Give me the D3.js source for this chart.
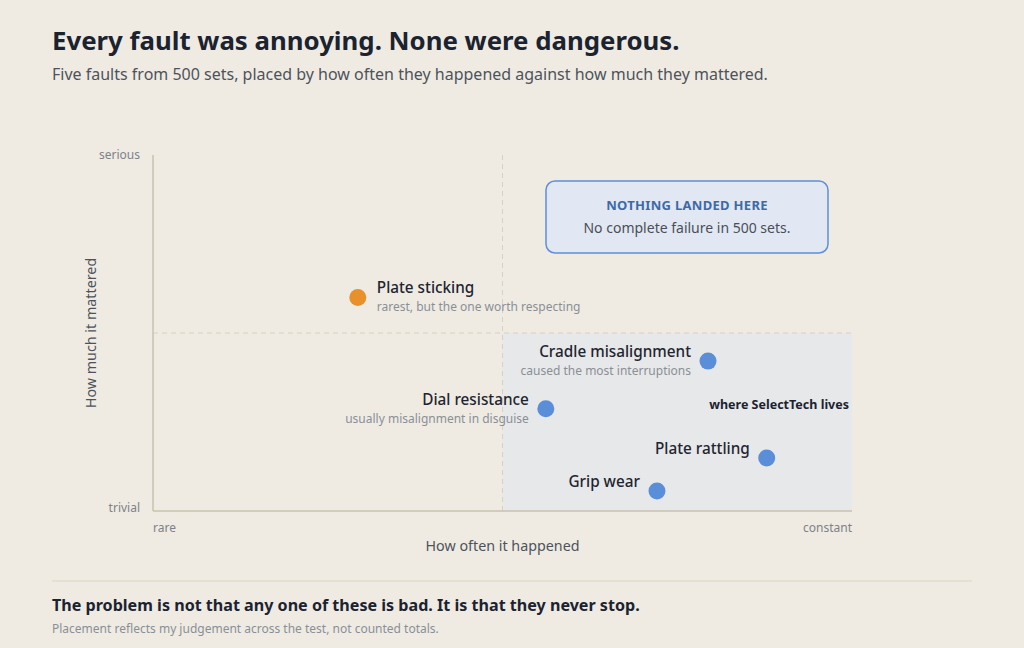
<!DOCTYPE html>
<html><head><meta charset="utf-8">
<script src="https://cdn.jsdelivr.net/npm/d3@7"></script>
<style>
html,body{margin:0;padding:0;background:#efebe3;}
svg{display:block;font-family:"Segoe UI","Noto Sans","Open Sans",sans-serif;}
</style></head>
<body><svg id="c" width="1024" height="648"></svg>
<script>
const faults = ["Plate sticking","Cradle misalignment","Dial resistance","Plate rattling","Grip wear"];
const frequency = [2.93, 7.94, 5.62, 8.78, 7.21];
const severity = [6.0, 4.21, 2.87, 1.49, 0.56];
const notes = ["rarest, but the one worth respecting","caused the most interruptions","usually misalignment in disguise","",""];
const labelSide = ["right","left","left","left","left"];
const highlight = [true,false,false,false,false];
const xTickLabels = ["rare","constant"];
const yTickLabels = ["trivial","serious"];

const svg = d3.select("#c");
const M = {l:153, r:852, t:155, b:511};
const x = d3.scaleLinear().domain([0,10]).range([M.l, M.r]);
const y = d3.scaleLinear().domain([0,10]).range([M.b, M.t]);

// title
svg.append("text").attr("x",52).attr("y",50).attr("font-size",25.8).attr("font-weight",700)
  .attr("fill","#1c2330").text("Every fault was annoying. None were dangerous.");
svg.append("text").attr("x",52).attr("y",80).attr("font-size",16).attr("fill","#4d535b")
  .text("Five faults from 500 sets, placed by how often they happened against how much they mattered.");

// shaded quadrant
svg.append("rect").attr("x",x(5)).attr("y",y(5)).attr("width",x(10)-x(5)).attr("height",y(0)-y(5))
  .attr("fill","#e7e8e9");

// dashed mid lines
svg.append("line").attr("x1",x(5)).attr("x2",x(5)).attr("y1",y(10)).attr("y2",y(0))
  .attr("stroke","#d8d1bf").attr("stroke-dasharray","5,4").attr("stroke-width",1);
svg.append("line").attr("x1",x(0)).attr("x2",x(10)).attr("y1",y(5)).attr("y2",y(5))
  .attr("stroke","#d8d1bf").attr("stroke-dasharray","5,4").attr("stroke-width",1);

// axes lines
svg.append("line").attr("x1",x(0)).attr("x2",x(0)).attr("y1",y(10)).attr("y2",y(0))
  .attr("stroke","#c9c2ae").attr("stroke-width",1.5);
svg.append("line").attr("x1",x(0)).attr("x2",x(10)).attr("y1",y(0)).attr("y2",y(0))
  .attr("stroke","#c9c2ae").attr("stroke-width",1.5);

// tick labels
svg.append("text").attr("x",x(0)).attr("y",y(0)+21).attr("font-size",12).attr("fill","#7d8288").text(xTickLabels[0]);
svg.append("text").attr("x",x(10)).attr("y",y(0)+21).attr("font-size",12).attr("fill","#7d8288").attr("text-anchor","end").text(xTickLabels[1]);
svg.append("text").attr("x",140).attr("y",y(0)+1).attr("font-size",12).attr("fill","#7d8288").attr("text-anchor","end").text(yTickLabels[0]);
svg.append("text").attr("x",140).attr("y",y(10)+4).attr("font-size",12).attr("fill","#7d8288").attr("text-anchor","end").text(yTickLabels[1]);

// axis titles
svg.append("text").attr("x",x(5)).attr("y",551).attr("font-size",14.3).attr("fill","#4d535b").attr("text-anchor","middle").text("How often it happened");
svg.append("text").attr("transform",`translate(96,${y(5)}) rotate(-90)`).attr("font-size",14.3).attr("fill","#4d535b").attr("text-anchor","middle").text("How much it mattered");

// callout
svg.append("rect").attr("x",546).attr("y",181).attr("width",282).attr("height",72).attr("rx",9)
  .attr("fill","#e1e8f4").attr("stroke","#5e8fd8").attr("stroke-width",1.5);
svg.append("text").attr("x",687).attr("y",210).attr("text-anchor","middle").attr("font-size",13).attr("font-weight",700)
  .attr("fill","#3d6aa8").attr("letter-spacing",0.3).text("NOTHING LANDED HERE");
svg.append("text").attr("x",687).attr("y",233).attr("text-anchor","middle").attr("font-size",14)
  .attr("fill","#4a4f57").text("No complete failure in 500 sets.");

// quadrant label
svg.append("text").attr("x",849).attr("y",409).attr("text-anchor","end").attr("font-size",12.5).attr("font-weight",700)
  .attr("fill","#1c2330").text("where SelectTech lives");

// points
const data = faults.map((f,i)=>({name:f, fx:frequency[i], sv:severity[i], note:notes[i], side:labelSide[i], hl:highlight[i]}));
const g = svg.append("g");
g.selectAll("circle").data(data).join("circle")
  .attr("cx",d=>x(d.fx)).attr("cy",d=>y(d.sv)).attr("r",8.5)
  .attr("fill",d=>d.hl?"#e8902c":"#5b8ed8");
g.selectAll("text.name").data(data).join("text").attr("class","name")
  .attr("x",d=>d.side==="right"?x(d.fx)+19:x(d.fx)-17)
  .attr("y",d=>y(d.sv)-4)
  .attr("text-anchor",d=>d.side==="right"?"start":"end")
  .attr("font-size",15.3).attr("font-weight",500).attr("fill","#1f2530")
  .text(d=>d.name);
g.selectAll("text.note").data(data.filter(d=>d.note)).join("text").attr("class","note")
  .attr("x",d=>d.side==="right"?x(d.fx)+19:x(d.fx)-17)
  .attr("y",d=>y(d.sv)+14)
  .attr("text-anchor",d=>d.side==="right"?"start":"end")
  .attr("font-size",12).attr("fill","#8a8f96")
  .text(d=>d.note);

// footer
svg.append("line").attr("x1",52).attr("x2",972).attr("y1",581).attr("y2",581).attr("stroke","#dcd5c3").attr("stroke-width",1);
svg.append("text").attr("x",52).attr("y",611).attr("font-size",16.1).attr("font-weight",700).attr("fill","#1c2330")
  .text("The problem is not that any one of these is bad. It is that they never stop.");
svg.append("text").attr("x",52).attr("y",633).attr("font-size",12).attr("fill","#8a8f96")
  .text("Placement reflects my judgement across the test, not counted totals.");
</script></body></html>
